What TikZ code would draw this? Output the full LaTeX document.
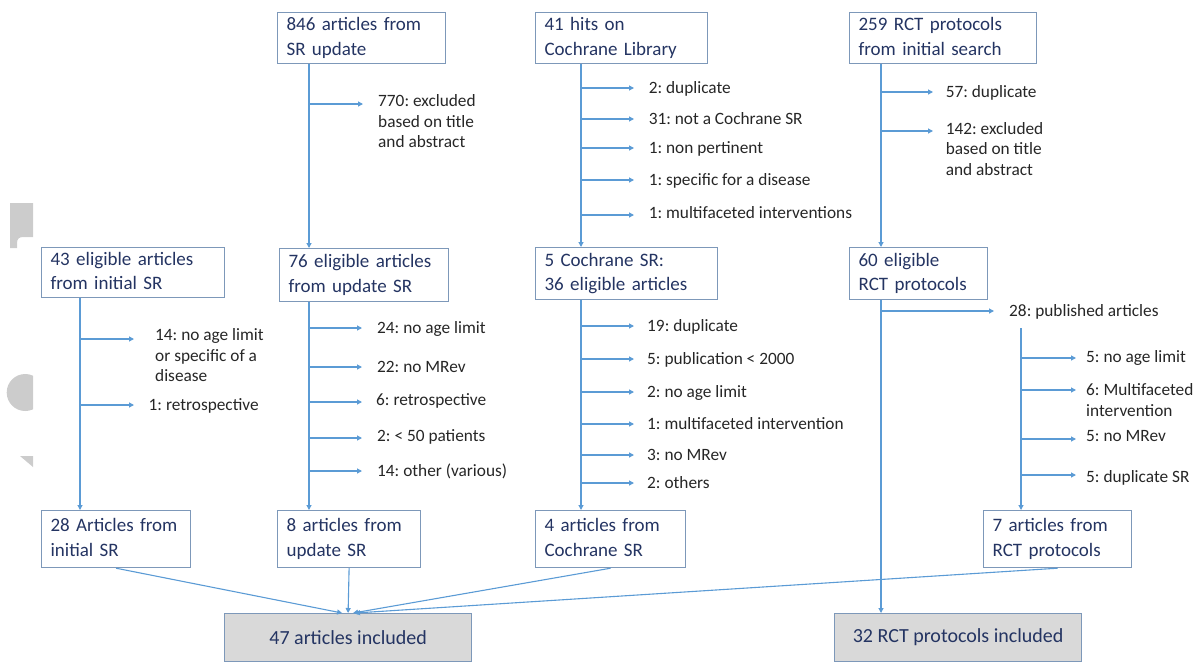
\documentclass[tikz,border=0pt]{standalone}
\usepackage{fontspec}
\setmainfont{Carlito}
\usetikzlibrary{arrows.meta}
\frenchspacing
\definecolor{lineblue}{RGB}{91,155,213}
\definecolor{boxline}{RGB}{125,152,185}
\definecolor{boxtext}{RGB}{36,52,98}
\definecolor{labtext}{RGB}{38,38,38}
\definecolor{grayfill}{RGB}{217,217,217}
\definecolor{artifact}{RGB}{204,204,204}
\tikzset{
  box/.style={draw=boxline, line width=1.2pt, anchor=north west, inner xsep=9pt, inner ysep=0pt,
    align=left, text=boxtext, font=\fontsize{19}{24.5}\selectfont},
  final/.style={draw=boxline, fill=grayfill, line width=1.2pt, anchor=north west, inner sep=0pt,
    align=center, text=boxtext, font=\fontsize{20}{24.5}\selectfont,
    minimum width=247pt, minimum height=48pt},
  lab/.style={anchor=base west, inner sep=0pt, text=labtext, font=\fontsize{17.3}{20.7}\selectfont},
  conn/.style={draw=lineblue, line width=1.1pt},
  arr/.style={conn, -{Triangle[length=5pt,width=5pt]}},
}
\newcommand{\ml}[1]{\begin{tabular}[t]{@{}l@{}}#1\end{tabular}}
\begin{document}
\frenchspacing
\begin{tikzpicture}[x=1pt,y=-1pt]
\useasboundingbox (0,0) rectangle (1201,662);
% background artifacts on the left edge
\fill[artifact] (10,203) -- (33,203) -- (33,237) -- (23,237) .. controls (19,237) and (17,239) .. (17,243) -- (17,248) -- (10,248) -- cycle;
\begin{scope}
  \clip (0,370) rectangle (33,415);
  \fill[artifact] (25.2,392.5) circle (18.5);
\end{scope}
\fill[artifact] (20,456) -- (33,456) -- (33,467) -- cycle;

% boxes
\node[box, minimum width=168pt, minimum height=51pt, text width=150pt] (b846) at (277,12) {\ml{846 articles from\\SR update}};
\node[box, minimum width=172pt, minimum height=51pt, text width=154pt] (b41) at (535,12) {\ml{41 hits on\\Cochrane Library}};
\node[box, minimum width=187pt, minimum height=51pt, text width=169pt] (b259) at (849,12) {\ml{259 RCT protocols\\from initial search}};
\node[box, minimum width=183pt, minimum height=50pt, text width=165pt] (b43) at (41,247) {\ml{43 eligible articles\\from initial SR}};
\node[box, minimum width=169pt, minimum height=53pt, text width=151pt] (b76) at (279,248) {\ml{76 eligible articles\\from update SR}};
\node[box, minimum width=182pt, minimum height=52pt, text width=164pt] (bC5) at (535,247) {\ml{5 Cochrane SR:\\36 eligible articles}};
\node[box, minimum width=138pt, minimum height=52pt, text width=120pt] (b60) at (849,247) {\ml{60 eligible\\RCT protocols}};
\node[box, minimum width=149pt, minimum height=57pt, text width=131pt] (b28) at (41,510) {\ml{28 Articles from\\initial SR}};
\node[box, minimum width=143pt, minimum height=57pt, text width=125pt] (b8) at (277,510) {\ml{8 articles from\\update SR}};
\node[box, minimum width=150pt, minimum height=57pt, text width=132pt] (b4) at (535,510) {\ml{4 articles from\\Cochrane SR}};
\node[box, minimum width=148pt, minimum height=57pt, text width=130pt] (b7) at (983,510) {\ml{7 articles from\\RCT protocols}};
\node[final] (b47) at (224,613) {47 articles included};
\node[final] (b32) at (834,613) {32 RCT protocols included};

% column x positions
\coordinate (xA) at (80,0);
\coordinate (xB) at (309,0);
\coordinate (xC) at (581,0);
\coordinate (xD) at (881,0);
\coordinate (xE) at (1021,0);

% main vertical connectors
\draw[arr] (xB |- b846.south) -- (xB |- b76.north);
\draw[arr] (xC |- b41.south) -- (xC |- bC5.north);
\draw[arr] (xD |- b259.south) -- (xD |- b60.north);
\draw[arr] (xA |- b43.south) -- (xA |- b28.north);
\draw[arr] (xB |- b76.south) -- (xB |- b8.north);
\draw[arr] (xC |- bC5.south) -- (xC |- b4.north);
\draw[arr] (xD |- b60.south) -- (xD |- b32.north);
\coordinate (e0) at (1021,328);
\draw[arr] (e0) -- (xE |- b7.north);

% converging connectors
\draw[arr] (b28.south) -- ([xshift=-6pt]b47.north);
\draw[arr] (b8.south) -- (b47.north);
\draw[arr] (b4.south) -- ([xshift=5pt]b47.north);
\draw[arr] (b7.south) -- ([xshift=7pt]b47.north);

% column B top
\draw[arr] (309,104) -- (363,104);
\node[lab] (l770) at (378,106.5) {\ml{770: excluded\\based on title\\and abstract}};

% column C top
\foreach \y in {88,119,148,180,215}{ \draw[arr] (581,\y) -- (634,\y); }
\node[lab] (lc1) at (648.6,93.5) {2: duplicate};
\node[lab] (lc2) at (648.6,124.5) {31: not a Cochrane SR};
\node[lab] (lc3) at (648.6,153.5) {1: non pertinent};
\node[lab] (lc4) at (648.6,185.5) {1: specific for a disease};
\node[lab] (lc5) at (648.6,218.5) {1: multifaceted interventions};

% column D top
\draw[arr] (881,92) -- (933,92);
\draw[arr] (881,131) -- (933,131);
\node[lab] (ld1) at (945.6,97.5) {57: duplicate};
\node[lab] (ld2) at (945.6,134) {\ml{142: excluded\\based on title\\and abstract}};

% column A
\draw[arr] (80,339) -- (134,339);
\draw[arr] (80,405) -- (134,405);
\node[lab] (la1) at (155,340.5) {\ml{14: no age limit\\or specific of a\\disease}};
\node[lab] (la2) at (148.5,410.5) {1: retrospective};

% column B lower
\foreach \y in {328,367,402,438,471}{ \draw[arr] (309,\y) -- (362,\y); }
\node[lab] (lb1) at (377,333.5) {24: no age limit};
\node[lab] (lb2) at (377,372.5) {22: no MRev};
\node[lab] (lb3) at (376,405.5) {6: retrospective};
\node[lab] (lb4) at (377,441.5) {2: < 50 patients};
\node[lab] (lb5) at (377,476.2) {14: other (various)};

% column C lower
\foreach \y in {326,359,392,424,455,483}{ \draw[arr] (581,\y) -- (634,\y); }
\node[lab] (lc6) at (647,331) {19: duplicate};
\node[lab] (lc7) at (647,364.8) {5: publication < 2000};
\node[lab] (lc8) at (647,397.2) {2: no age limit};
\node[lab] (lc9) at (647,429.8) {1: multifaceted intervention};
\node[lab] (lc10) at (647,460.5) {3: no MRev};
\node[lab] (lc11) at (647,488.8) {2: others};

% column D lower
\draw[arr] (881,311) -- (994,311);
\node[lab] (ld3) at (1009,316.5) {28: published articles};

% sub column E
\foreach \y in {358,390,439,475}{ \draw[arr] (1021,\y) -- (1076,\y); }
\node[lab] (le1) at (1086,362.2) {5: no age limit};
\node[lab] (le2) at (1086,395.5) {\ml{6: Multifaceted\\intervention}};
\node[lab] (le3) at (1086,441.5) {5: no MRev};
\node[lab] (le4) at (1086,482.2) {5: duplicate SR};
\end{tikzpicture}
\end{document}
